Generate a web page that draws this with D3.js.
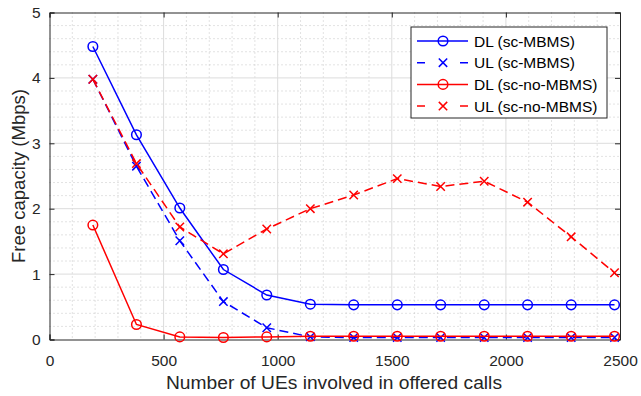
<!DOCTYPE html>
<html>
<head>
<meta charset="utf-8">
<script src="https://cdn.jsdelivr.net/npm/d3@7"></script>
<style>
  html, body { margin: 0; padding: 0; background: #fff; }
  svg { display: block; font-family: "Liberation Sans", Arial, Helvetica, sans-serif; }
</style>
</head>
<body>
<svg id="chart" width="641" height="396"></svg>
<script>
// Number of UEs involved in offered calls
const ues = [190, 381, 571, 762, 952, 1143, 1333, 1524, 1714, 1905, 2095, 2286, 2476];

// Free capacity (Mbps) per scenario
const dlMbms   = [4.48, 3.13, 2.01, 1.07, 0.68, 0.54, 0.53, 0.53, 0.53, 0.53, 0.53, 0.53, 0.53];
const ulMbms   = [3.98, 2.65, 1.51, 0.58, 0.18, 0.04, 0.03, 0.03, 0.03, 0.03, 0.03, 0.03, 0.03];
const dlNoMbms = [1.75, 0.23, 0.04, 0.03, 0.04, 0.05, 0.05, 0.05, 0.05, 0.05, 0.05, 0.05, 0.05];
const ulNoMbms = [3.98, 2.69, 1.72, 1.31, 1.69, 2.00, 2.21, 2.46, 2.34, 2.42, 2.10, 1.57, 1.02];

const xTicks = [0, 500, 1000, 1500, 2000, 2500];
const yTicks = [0, 1, 2, 3, 4, 5];

const seriesNames = ["DL (sc-MBMS)", "UL (sc-MBMS)", "DL (sc-no-MBMS)", "UL (sc-no-MBMS)"];

const series = [
  { name: seriesNames[0], values: dlMbms,   color: "#0000ff", dashed: false, marker: "circle" },
  { name: seriesNames[1], values: ulMbms,   color: "#0000ff", dashed: true,  marker: "cross" },
  { name: seriesNames[2], values: dlNoMbms, color: "#ff0000", dashed: false, marker: "circle" },
  { name: seriesNames[3], values: ulNoMbms, color: "#ff0000", dashed: true,  marker: "cross" }
];

const svg = d3.select("#chart");
const plotLeft = 49.5, plotRight = 620, plotTop = 12.5, plotBottom = 339.5;

const x = d3.scaleLinear().domain([0, 2500]).range([plotLeft, plotRight]);
const y = d3.scaleLinear().domain([0, 5]).range([plotBottom, plotTop]);

const axisColor = "#262626";

// minor dotted grid
const g = svg.append("g");
g.selectAll("line.minx").data(d3.range(0, 2501, 100).filter(v => v % 500 !== 0))
  .join("line").attr("x1", d => x(d)).attr("x2", d => x(d))
  .attr("y1", plotTop).attr("y2", plotBottom)
  .attr("stroke", "#b8b8b8").attr("stroke-width", 0.8).attr("stroke-dasharray", "1,3");
g.selectAll("line.miny").data(d3.range(0, 5.001, 0.2).map(v => +v.toFixed(1)).filter(v => Math.abs(v - Math.round(v)) > 1e-6))
  .join("line").attr("y1", d => y(d)).attr("y2", d => y(d))
  .attr("x1", plotLeft).attr("x2", plotRight)
  .attr("stroke", "#b8b8b8").attr("stroke-width", 0.8).attr("stroke-dasharray", "1,3");

// major solid grid
g.selectAll("line.majx").data(xTicks.slice(1, -1)).join("line")
  .attr("x1", d => x(d)).attr("x2", d => x(d)).attr("y1", plotTop).attr("y2", plotBottom)
  .attr("stroke", "#dcdcdc").attr("stroke-width", 1);
g.selectAll("line.majy").data(yTicks.slice(1, -1)).join("line")
  .attr("y1", d => y(d)).attr("y2", d => y(d)).attr("x1", plotLeft).attr("x2", plotRight)
  .attr("stroke", "#dcdcdc").attr("stroke-width", 1);

// axes with inward ticks
const tickLen = 5;
const xAxis = d3.axisBottom(x).tickValues(xTicks).tickSize(-tickLen).tickPadding(15).tickFormat(d3.format("d"));
const yAxis = d3.axisLeft(y).tickValues(yTicks).tickSize(-tickLen).tickPadding(9).tickFormat(d3.format("d"));
const xTop = d3.axisTop(x).tickValues(xTicks).tickSize(-tickLen).tickFormat("");
const yRight = d3.axisRight(y).tickValues(yTicks).tickSize(-tickLen).tickFormat("");

function styleAxis(sel) {
  sel.select(".domain").attr("stroke", axisColor).attr("stroke-width", 1);
  sel.selectAll(".tick line").attr("stroke", axisColor).attr("stroke-width", 1);
  sel.selectAll(".tick text").attr("fill", axisColor).style("font-size", "15.5px");
}
svg.append("g").attr("transform", `translate(0,${plotBottom})`).call(xAxis).call(styleAxis);
svg.append("g").attr("transform", `translate(${plotLeft},0)`).call(yAxis).call(styleAxis);
svg.append("g").attr("transform", `translate(0,${plotTop})`).call(xTop).call(styleAxis);
svg.append("g").attr("transform", `translate(${plotRight},0)`).call(yRight).call(styleAxis);

// axis titles
svg.append("text").attr("x", 334).attr("y", 389)
  .attr("text-anchor", "middle").attr("fill", axisColor).style("font-size", "17.5px")
  .attr("textLength", 336).attr("lengthAdjust", "spacingAndGlyphs")
  .text("Number of UEs involved in offered calls");
svg.append("text").attr("transform", `translate(25,${(plotTop + plotBottom) / 2}) rotate(-90)`)
  .attr("text-anchor", "middle").attr("fill", axisColor).style("font-size", "17.5px")
  .attr("textLength", 174).attr("lengthAdjust", "spacingAndGlyphs")
  .text("Free capacity (Mbps)");

// series
const line = d3.line().x(d => x(d[0])).y(d => y(d[1]));
const dash = "9,5";
const mr = 4.8, cs = 4.2;

function drawMarker(sel, type, color) {
  if (type === "circle") {
    sel.append("circle").attr("r", mr).attr("fill", "none").attr("stroke", color).attr("stroke-width", 1.5);
  } else {
    sel.append("path").attr("d", `M${-cs},${-cs}L${cs},${cs}M${-cs},${cs}L${cs},${-cs}`)
      .attr("stroke", color).attr("stroke-width", 1.5).attr("fill", "none");
  }
}

const plot = svg.append("g");
series.forEach(s => {
  const pts = ues.map((u, i) => [u, s.values[i]]);
  plot.append("path").datum(pts).attr("d", line)
    .attr("fill", "none").attr("stroke", s.color).attr("stroke-width", 1.5)
    .attr("stroke-dasharray", s.dashed ? dash : null);
  pts.forEach(p => {
    const m = plot.append("g").attr("transform", `translate(${x(p[0])},${y(p[1])})`);
    drawMarker(m, s.marker, s.color);
  });
});

// legend
const lg = svg.append("g");
lg.append("rect").attr("x", 411).attr("y", 27).attr("width", 196).attr("height", 91)
  .attr("fill", "#fff").attr("stroke", axisColor).attr("stroke-width", 1);
series.forEach((s, i) => {
  const yy = 41 + i * 21.7;
  lg.append("line").attr("x1", 417).attr("x2", 468).attr("y1", yy).attr("y2", yy)
    .attr("stroke", s.color).attr("stroke-width", 1.5)
    .attr("stroke-dasharray", s.dashed ? "8,35" : null);
  const m = lg.append("g").attr("transform", `translate(443,${yy})`);
  drawMarker(m, s.marker, s.color);
  lg.append("text").attr("x", 474).attr("y", yy).attr("dy", "0.36em")
    .attr("fill", "#000").style("font-size", "15.5px").text(s.name);
});
</script>
</body>
</html>
